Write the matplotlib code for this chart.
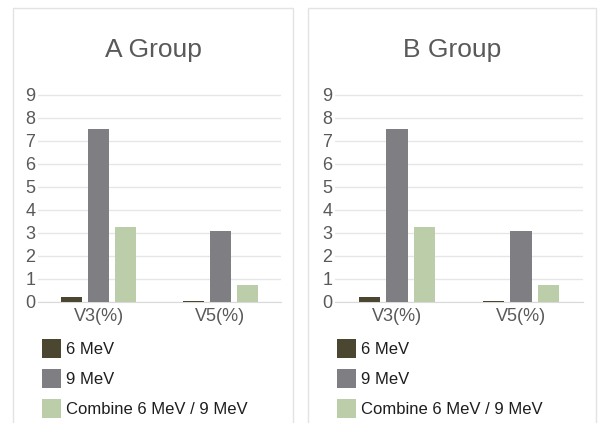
import matplotlib.pyplot as plt
import numpy as np
from matplotlib.patches import Rectangle

plt.rcParams['font.family'] = ['Liberation Sans', 'DejaVu Sans']

categories = ['V3(%)', 'V5(%)']
series_names = ['6 MeV', '9 MeV', 'Combine 6 MeV / 9 MeV']
a_group = [[0.22, 0.03], [7.52, 3.08], [3.25, 0.74]]
b_group = [[0.22, 0.03], [7.52, 3.08], [3.25, 0.74]]
titles = ['A Group', 'B Group']
colors = ['#4b4630', '#7f7f83', '#bccdaa']

W, H = 598, 423
fig = plt.figure(figsize=(W / 100, H / 100), dpi=100)

# panel frames (pixels: left, top, right)
frames = [(13, 8, 293), (308, 8, 596)]
axes_px = [(38, 281), (335, 583)]
y0_px, y9_px = 302, 94.5

for i, data in enumerate([a_group, b_group]):
    fl, ft, fr = frames[i]
    fig.patches.append(Rectangle((fl / W, -0.05), (fr - fl) / W, 1.05 - ft / H,
                                 transform=fig.transFigure, fill=False,
                                 edgecolor='#e3e3e3', linewidth=1))
    xl, xr = axes_px[i]
    ax = fig.add_axes([xl / W, (H - y0_px) / H, (xr - xl) / W, (y0_px - y9_px) / H])
    x = np.arange(len(categories))
    step = 0.222
    for j, vals in enumerate(data):
        ax.bar(x + (j - 1) * step, vals, width=0.175, color=colors[j],
               label=series_names[j], zorder=3)
    ax.set_xlim(-0.5, 1.5)
    ax.set_ylim(0, 9)
    ax.set_yticks(range(10))
    ax.set_xticks(x)
    ax.set_xticklabels(categories)
    ax.grid(axis='y', color='#e6e6e6', linewidth=1, zorder=0)
    for s in ['top', 'right', 'left']:
        ax.spines[s].set_visible(False)
    ax.spines['bottom'].set_color('#d9d9d9')
    ax.tick_params(length=0, labelsize=13, colors='#595959')
    ax.tick_params(axis='y', pad=2)
    ax.tick_params(axis='x', pad=4.5)
    fig.text((fl + fr) / 2 / W, 1 - 57 / H, titles[i], ha='center', va='baseline',
             fontsize=19, color='#595959')
    ax.legend(loc='upper left', bbox_to_anchor=((fl + 28.5) / W, 1 - 339 / H),
              bbox_transform=fig.transFigure, frameon=False, fontsize=12,
              handlelength=1.14, handleheight=1.38, handletextpad=0.34,
              labelspacing=0.65, borderpad=0, borderaxespad=0,
              labelcolor='#1e1e1e')

fig.savefig('out.png', dpi=100, facecolor='white')
